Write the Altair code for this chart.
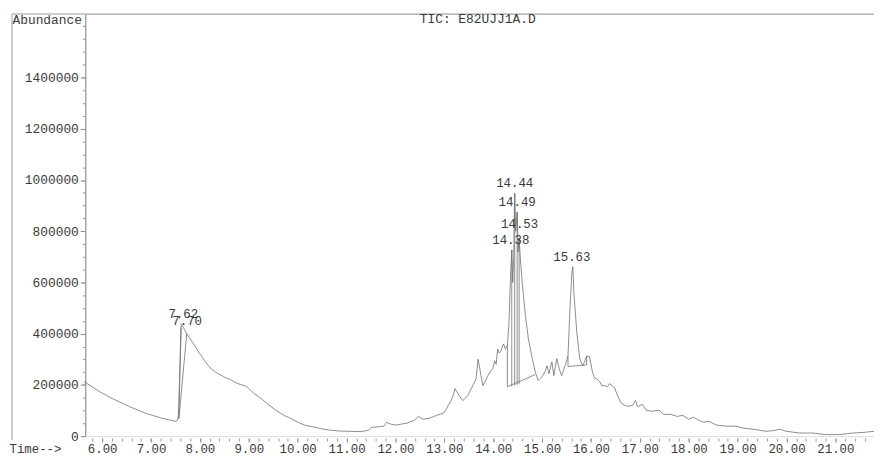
import altair as alt
import pandas as pd

FONT = "Liberation Mono"
TXT = "#3a3a3a"
LINE = "#707070"

# ---- chromatogram trace (retention time in min, abundance in thousands) ----
times = [5.63, 5.80, 5.94, 6.08, 6.20, 6.35, 6.55, 6.70, 6.89, 7.05, 7.22, 7.35, 7.45, 7.50,
         7.54, 7.56, 7.59, 7.62, 7.66, 7.70, 7.75, 7.80, 7.83, 7.90, 7.97, 8.05, 8.11, 8.17,
         8.23, 8.30, 8.37, 8.45, 8.50, 8.58, 8.65, 8.72, 8.78, 8.85, 8.92, 8.98, 9.04, 9.12,
         9.20, 9.25, 9.35, 9.45, 9.55, 9.65, 9.75, 9.85, 10.00, 10.14, 10.34, 10.50, 10.67,
         10.85, 11.01, 11.20, 11.35, 11.45, 11.50, 11.56, 11.70, 11.76, 11.82, 11.90, 12.02,
         12.12, 12.23, 12.32, 12.39, 12.47, 12.52, 12.57, 12.70, 12.78, 12.84, 12.92, 12.98,
         13.04, 13.08, 13.14, 13.18, 13.22, 13.26, 13.30, 13.38, 13.44, 13.48, 13.55, 13.58,
         13.65, 13.69, 13.72, 13.75, 13.79, 13.84, 13.89, 13.95, 13.99, 14.03, 14.06, 14.09,
         14.12, 14.15, 14.21, 14.25, 14.29, 14.32, 14.36, 14.38, 14.40, 14.42, 14.44, 14.46,
         14.49, 14.51, 14.53, 14.56, 14.60, 14.66, 14.72, 14.80, 14.86, 14.92, 14.96, 15.00,
         15.06, 15.10, 15.14, 15.20, 15.24, 15.30, 15.35, 15.40, 15.47, 15.53, 15.57, 15.61,
         15.63, 15.65, 15.71, 15.77, 15.83, 15.87, 15.91, 15.97, 16.03, 16.08, 16.12, 16.18,
         16.22, 16.28, 16.34, 16.38, 16.48, 16.54, 16.62, 16.74, 16.85, 16.91, 16.95, 17.05,
         17.13, 17.25, 17.39, 17.49, 17.63, 17.76, 17.88, 18.00, 18.10, 18.20, 18.30, 18.41,
         18.57, 18.77, 18.97, 19.12, 19.32, 19.58, 19.72, 19.87, 19.99, 20.27, 20.54, 20.80,
         21.08, 21.35, 21.61, 21.79]
abund_k = [213, 192, 174, 160, 147, 134, 116, 104, 89, 80, 70, 64, 60, 58,
           62, 81, 250, 437, 425, 410, 395, 380, 371, 352, 329, 308, 290, 276,
           263, 252, 244, 236, 230, 224, 218, 210, 205, 200, 197, 190, 178, 165,
           154, 147, 131, 116, 102, 89, 78, 70, 55, 43, 35, 28, 23,
           20, 19, 18, 19, 23, 33, 35, 37, 39, 54, 47, 43,
           47, 50, 57, 62, 77, 70, 66, 70, 76, 81, 86, 89,
           105, 120, 139, 160, 186, 172, 159, 139, 150, 159, 185, 197,
           224, 300, 270, 236, 197, 215, 236, 255, 263, 294, 280, 340,
           325, 329, 360, 340, 355, 429, 650, 727, 600, 700, 948, 800,
           874, 720, 773, 680, 584, 468, 379, 302, 251, 217, 225, 232,
           251, 275, 244, 290, 236, 302, 263, 236, 275, 313, 495, 640,
           661, 561, 406, 302, 275, 290, 313, 310, 251, 224, 224, 213,
           197, 197, 193, 205, 190, 160, 128, 116, 120, 139, 115, 124,
           101, 97, 101, 85, 85, 77, 81, 66, 74, 62, 54, 58,
           43, 39, 39, 31, 27, 19, 21, 27, 19, 12, 12, 6,
           6, 12, 15, 19]

# ---- integration lines (baselines / drop lines) ----
seg_t = [7.57, 7.57, 14.29, 14.29, 14.38, 14.44, 14.49, 14.53, 15.53, 15.53, 15.91]
seg_a = [68, 68, 193, 193, 195, 197, 200, 203, 272, 272, 278]
seg_t2 = [7.61, 7.73, 14.86, 14.29, 14.38, 14.44, 14.49, 14.53, 15.91, 15.53, 15.91]
seg_a2 = [425, 400, 240, 355, 727, 948, 874, 773, 278, 313, 313]

# ---- peak labels ----
peak_t = [7.66, 7.74, 14.36, 14.44, 14.49, 14.54, 15.61]
peak_a = [437, 410, 727, 948, 874, 790, 661]
peak_lbl = ["7.62", "7.70", "14.38", "14.44", "14.49", "14.53", "15.63"]

x_major = [6, 7, 8, 9, 10, 11, 12, 13, 14, 15, 16, 17, 18, 19, 20, 21]
x_minor = [round(5.8 + 0.2 * i, 1) for i in range(81)]
y_major = [0, 200000, 400000, 600000, 800000, 1000000, 1200000, 1400000]
y_minor = [50000 * i for i in range(33)]

trace = pd.DataFrame({"t": times, "a": [v * 1000 for v in abund_k]})
segs = pd.DataFrame({"t": seg_t, "a": [v * 1000 for v in seg_a],
                     "t2": seg_t2, "a2": [v * 1000 for v in seg_a2]})
peaks = pd.DataFrame({"t": peak_t, "a": [v * 1000 for v in peak_a], "lbl": peak_lbl})

xs = alt.Scale(domain=[5.655, 21.79], nice=False, zero=False)
ys = alt.Scale(domain=[0, 1648000], nice=False, zero=True)

x_axis = alt.Axis(values=x_major, format=".2f", grid=False, domain=False,
                  tickSize=4, tickColor="#888888", labelFont=FONT, labelFontSize=12.5,
                  labelColor=TXT, labelPadding=1, offset=2, labelFlush=False,
                  labelOverlap=False, title="Time-->", titleFont=FONT, titleFontSize=12.5,
                  titleFontWeight="normal", titleColor=TXT, titleAlign="left",
                  titleBaseline="middle", titleX=-77, titleY=11, orient="bottom")
y_axis = alt.Axis(values=y_major, format="d", grid=False, domain=True,
                  domainColor="#888888", tickSize=5, tickColor="#888888",
                  labelFont=FONT, labelFontSize=13, labelColor=TXT, labelPadding=2,
                  labelOverlap=False, labelFlush=False, title="Abundance", titleFont=FONT,
                  titleFontSize=13, titleFontWeight="normal", titleColor=TXT,
                  titleAngle=0, titleAlign="left", titleBaseline="middle",
                  titleX=-74, titleY=6, orient="left")

x_minor_axis = alt.Axis(values=x_minor, labels=False, grid=False, domain=False,
                        tickSize=3, tickColor="#999999", offset=2, title=None,
                        orient="bottom")
y_minor_axis = alt.Axis(values=y_minor, labels=False, grid=False, domain=False,
                        tickSize=3, tickColor="#999999", title=None, orient="left")

line = alt.Chart(trace).mark_line(color=LINE, strokeWidth=0.8).encode(
    x=alt.X("t:Q", scale=xs, axis=x_axis),
    y=alt.Y("a:Q", scale=ys, axis=y_axis),
)

rules = alt.Chart(segs).mark_rule(color=LINE, strokeWidth=0.8).encode(
    x=alt.X("t:Q", scale=xs, axis=x_minor_axis),
    y=alt.Y("a:Q", scale=ys, axis=y_minor_axis),
    x2="t2:Q",
    y2="a2:Q",
)

labels = alt.Chart(peaks).mark_text(font=FONT, fontSize=12.5, color=TXT,
                                     baseline="bottom", dy=-3).encode(
    x=alt.X("t:Q", scale=xs, axis=None),
    y=alt.Y("a:Q", scale=ys, axis=None),
    text="lbl:N",
)

title_df = pd.DataFrame({"lbl": ["TIC: E82UJJ1A.D"]})
title = alt.Chart(title_df).mark_text(font=FONT, fontSize=13, color=TXT,
                                      align="center", baseline="middle").encode(
    x=alt.value(396), y=alt.value(5), text="lbl:N")

frame_df = pd.DataFrame({"k": [0]})
top_frame = alt.Chart(frame_df).mark_rule(color="#9a9a9a", strokeWidth=1).encode(
    x=alt.value(-74), x2=alt.value(796), y=alt.value(0))
left_frame = alt.Chart(frame_df).mark_rule(color="#9a9a9a", strokeWidth=1).encode(
    x=alt.value(-74), y=alt.value(0), y2=alt.value(430))

chart = alt.layer(top_frame, left_frame, line, rules, labels, title).resolve_axis(
    x="independent", y="independent"
).properties(
    width=796, height=426,
    autosize=alt.AutoSizeParams(type="none"),
    padding={"left": 78, "top": 4, "right": 0, "bottom": 19},
).configure_view(stroke=None).configure(background="white")

chart.save("out.html", embed_options={"renderer": "svg", "actions": False})
